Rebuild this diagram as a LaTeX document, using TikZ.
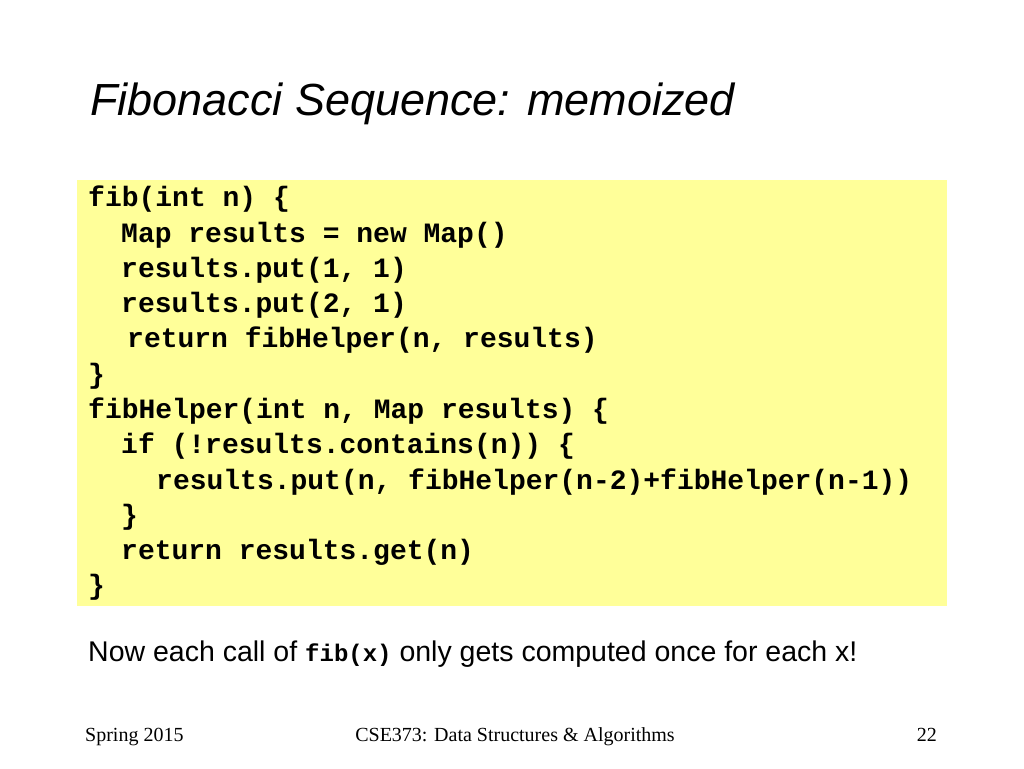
\documentclass[tikz,border=0pt]{standalone}
\usepackage{fontspec}
\setmainfont{Liberation Serif}
\setsansfont{Liberation Sans}
\setmonofont{Liberation Mono}
\definecolor{codebg}{HTML}{FFFF99}
\begin{document}
\begin{tikzpicture}[x=1pt,y=-1pt,
  code/.style={anchor=base west,inner sep=0pt,font=\fontsize{28}{30}\selectfont\ttfamily\bfseries},
  foot/.style={anchor=base,inner sep=0pt,font=\fontsize{20}{22}\selectfont\rmfamily}]
\useasboundingbox (0,0) rectangle (1024,768);
\fill[white] (0,0) rectangle (1024,768);
\node[anchor=base west,inner sep=0pt,font=\fontsize{45}{48}\selectfont\sffamily\itshape] (title) at (90,115) {Fibonacci Sequence: memoized};
\fill[codebg] (77,180) rectangle (947,606);
\node[code] (l1) at (88,206) {fib(int n) \{};
\node[code] (l2) at (121,242) {Map results = new Map()};
\node[code] (l3) at (121,277) {results.put(1, 1)};
\node[code] (l4) at (121,312) {results.put(2, 1)};
\node[code] (l5) at (127,347) {return fibHelper(n, results)};
\node[code] (l6) at (88,383) {\}};
\node[code] (l7) at (88,418) {fibHelper(int n, Map results) \{};
\node[code] (l8) at (121,453) {if (!results.contains(n)) \{};
\node[code] (l9) at (156,489) {results.put(n, fibHelper(n-2)+fibHelper(n-1))};
\node[code] (l10) at (121,524) {\}};
\node[code] (l11) at (121,559) {return results.get(n)};
\node[code] (l12) at (88,594) {\}};
\node[anchor=base west,inner sep=0pt,font=\fontsize{28.5}{30}\selectfont\sffamily] (note) at (88,661) {Now each call of {\fontsize{24}{26}\selectfont\ttfamily\bfseries fib(x)} only gets computed once for each x!};
\node[foot,anchor=base west] (f1) at (85,741) {Spring 2015};
\node[foot] (f2) at (515,741) {CSE373: Data Structures \& Algorithms};
\node[foot,anchor=base east] (f3) at (937,741) {22};
\end{tikzpicture}
\end{document}
